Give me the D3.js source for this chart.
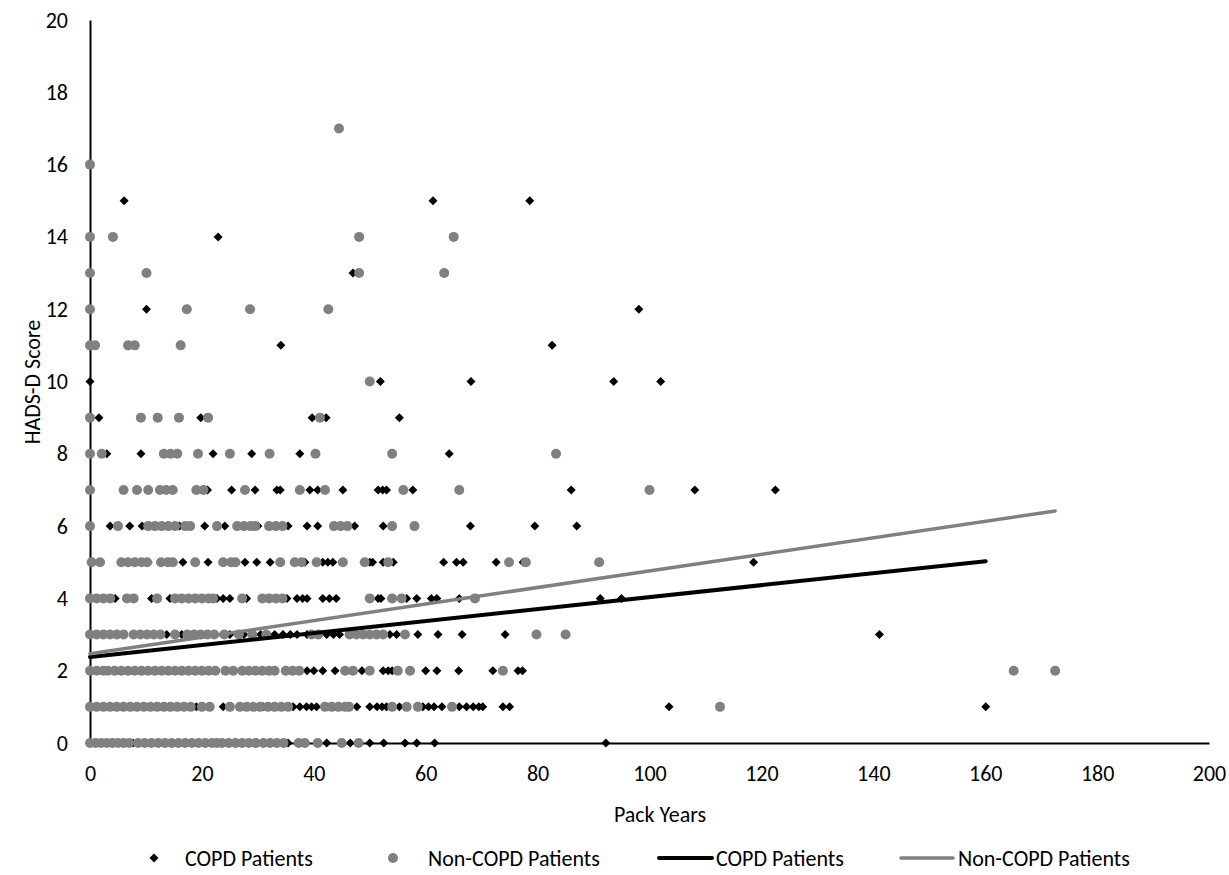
<!DOCTYPE html>
<html lang="en">
<head>
<meta charset="utf-8">
<title>HADS-D Score vs Pack Years</title>
<script src="https://cdn.jsdelivr.net/npm/d3@7"></script>
<style>
  body { margin: 0; background: #fff; }
  text { font-family: Calibri, Carlito, Lato, sans-serif; fill: #000; }
</style>
</head>
<body>
<script>
// pack years per HADS-D score (index = score)
var copdByScore = [
  [7.7, 30, 35.4, 42.3, 46.5, 50, 52.5, 56.3, 58.4, 61.6, 92.2],
  [19, 23.8, 25, 31, 36.3, 37.5, 38.7, 39.6, 40.5, 47.7, 50, 51.3, 52.2, 53, 55.3, 59.5, 60.5, 61.5, 62.9, 66, 67.3, 68.5, 69.5, 70.2, 73.8, 75, 103.5, 160.1],
  [38.8, 40, 41.6, 43.8, 48.6, 52.4, 53.3, 54, 60, 62, 65.9, 72, 76.5, 77.3],
  [13.7, 16.4, 25, 27.5, 30.5, 33, 34.5, 35.8, 37, 38.8, 42.3, 43.5, 44.6, 53.6, 54.8, 58.6, 62.2, 66.5, 74.2, 141.1],
  [4.5, 11, 14.3, 22.7, 23.8, 25, 28, 35.2, 37, 38, 38.8, 41.6, 42.8, 44, 51.5, 52, 56.6, 58.4, 61, 62, 66, 91.2, 95],
  [10.4, 16.6, 21.1, 27.7, 29.8, 32.2, 38.4, 41.6, 42.5, 43.4, 50, 50.5, 52.4, 54.2, 63.2, 65.5, 66.7, 72.6, 77.4, 118.6],
  [3.6, 7.1, 9.3, 16, 20.5, 24.1, 30, 35.4, 38.8, 40.7, 47.3, 52.4, 68, 79.5, 87],
  [21, 25.3, 29.5, 33.4, 34, 39.3, 40.7, 45.2, 51.5, 52.3, 53, 57.7, 86, 108.1, 122.5],
  [3, 9.1, 22, 28.9, 37.5, 64.2],
  [1.6, 19.8, 39.7, 42.2, 55.3],
  [0, 51.9, 68.1, 93.6, 102],
  [34.1, 82.6],
  [10.1, 98.1],
  [47],
  [22.9],
  [6.1, 61.3, 78.6]
];

var nonCopdByScore = [
  [0, 1, 2, 3, 4, 5, 6, 7, 8.6, 9.8, 11, 12.2, 13.4, 14.6, 15.8, 17, 18.2, 19.4, 20.6, 21.8, 22.7, 23.6, 24.8, 26, 27.2, 28.4, 29.6, 31, 32.2, 33.4, 34.6, 37.3, 38.4, 40.7, 45, 48],
  [0, 1.2, 2.4, 3.6, 4.8, 6, 7.2, 8.4, 9.6, 10.8, 12, 13.2, 14.4, 15.6, 16.8, 18, 20, 21.4, 25, 26.8, 28, 29.2, 30.4, 31.8, 33, 34.2, 35.4, 42, 43.2, 44.4, 45.6, 46.3, 54, 56.6, 58.6, 64.7, 112.6],
  [0, 1.2, 2.4, 3.2, 4.4, 5.6, 6.8, 8, 9.2, 10.4, 11.6, 12.8, 14, 15.2, 16.4, 17.6, 18.8, 20, 21.2, 22.4, 24.2, 25.6, 27.2, 28.4, 29.6, 30.8, 32, 33, 35, 36.2, 37.4, 45.6, 47, 50, 55, 57.2, 73.8, 165.1, 172.5],
  [0, 1.2, 2.4, 3.6, 4.8, 6, 7.8, 9, 10.2, 11.4, 12.6, 15.2, 17.4, 18.6, 19.8, 21, 22.2, 24, 26.6, 29, 31.5, 39.6, 40.8, 46.4, 47.6, 48.8, 50, 51.2, 52.4, 56.3, 79.8, 85],
  [0, 1.2, 2.4, 3.6, 6.6, 7.8, 12, 15.2, 16.4, 17.6, 18.8, 20, 21.2, 22, 27.2, 30.8, 32, 33.2, 34.4, 50, 54, 55.7, 68.8],
  [0.3, 1.8, 5.6, 6.8, 8, 9.2, 10.2, 12.7, 13.9, 14.8, 18.8, 23.8, 25.2, 26, 34, 36.6, 37.8, 40.5, 45.2, 49.1, 53.3, 74.9, 77.9, 91],
  [0, 5, 10.4, 11.6, 12.8, 14, 15.2, 17, 17.9, 22.7, 26.3, 27.5, 28.7, 29.5, 32, 33.2, 34.4, 43.6, 44.8, 46, 54, 58],
  [0, 6, 8.4, 10.4, 12.5, 13.6, 14.8, 19, 20.3, 27.7, 37.5, 42, 56, 66, 100],
  [0, 2.1, 13.2, 14.4, 15.6, 19.3, 25, 32.1, 40.3, 54, 83.3],
  [0, 9.1, 12.1, 15.9, 21.1, 41.1],
  [50],
  [0, 0.9, 6.8, 8, 16.2],
  [0, 17.3, 28.6, 42.6],
  [0, 10.1, 48.1, 63.3],
  [0, 4.1, 48.1, 65],
  [],
  [0],
  [44.5]
];

// linear trend lines: [packYears, score] at both ends
var copdTrend = [[0, 2.38], [160.1, 5.03]];
var nonCopdTrend = [[0, 2.47], [172.5, 6.42]];

var xTicks = [0, 20, 40, 60, 80, 100, 120, 140, 160, 180, 200];
var yTicks = [0, 2, 4, 6, 8, 10, 12, 14, 16, 18, 20];

var legendLabels = ["COPD Patients", "Non-COPD Patients", "COPD Patients", "Non-COPD Patients"];

var w = 1229, h = 875;
var grey = "#808080";

function flatten(rows) {
  var pts = [];
  rows.forEach(function(xs, score) {
    xs.forEach(function(x) { pts.push([x, score]); });
  });
  return pts;
}

var svg = d3.select("body").append("svg")
  .attr("width", w)
  .attr("height", h);

var x = d3.scaleLinear().domain([0, 200]).range([90, 1209]);
var y = d3.scaleLinear().domain([0, 20]).range([743, 20]);

// axes
var xAxis = svg.append("g")
  .attr("transform", "translate(0," + y(0) + ")")
  .call(d3.axisBottom(x).tickValues(xTicks).tickSize(0).tickPadding(22));
var yAxis = svg.append("g")
  .attr("transform", "translate(" + x(0) + ",0)")
  .call(d3.axisLeft(y).tickValues(yTicks).tickSize(0).tickPadding(22));

[xAxis, yAxis].forEach(function(g) {
  g.select(".domain").attr("stroke", "#000").attr("stroke-width", 2);
  g.selectAll("text").attr("font-size", 22).attr("font-family", "Calibri, Carlito, Lato, sans-serif");
});

// COPD diamonds, then non-COPD circles on top
svg.append("g").selectAll("path")
  .data(flatten(copdByScore))
  .enter()
  .append("path")
  .attr("d", "M0,-4.5L4.5,0L0,4.5L-4.5,0Z")
  .attr("transform", function(d) { return "translate(" + x(d[0]) + "," + y(d[1]) + ")"; })
  .attr("fill", "#000");

svg.append("g").selectAll("circle")
  .data(flatten(nonCopdByScore))
  .enter()
  .append("circle")
  .attr("cx", function(d) { return x(d[0]); })
  .attr("cy", function(d) { return y(d[1]); })
  .attr("r", 5)
  .attr("fill", grey);

var line = d3.line()
  .x(function(d) { return x(d[0]); })
  .y(function(d) { return y(d[1]); });

svg.append("path").datum(copdTrend)
  .attr("d", line).attr("stroke", "#000").attr("stroke-width", 4)
  .attr("stroke-linecap", "round").attr("fill", "none");
svg.append("path").datum(nonCopdTrend)
  .attr("d", line).attr("stroke", grey).attr("stroke-width", 3.5)
  .attr("stroke-linecap", "round").attr("fill", "none");

// axis titles
svg.append("text")
  .attr("x", 660).attr("y", 822)
  .attr("text-anchor", "middle").attr("font-size", 22)
  .text("Pack Years");
svg.append("text")
  .attr("transform", "translate(40,382) rotate(-90)")
  .attr("text-anchor", "middle").attr("font-size", 22)
  .text("HADS-D Score");

// legend
var ly = 858;
var leg = svg.append("g").attr("font-size", 22);
leg.append("path").attr("d", "M0,-4.5L4.5,0L0,4.5L-4.5,0Z")
  .attr("transform", "translate(154," + ly + ")").attr("fill", "#000");
leg.append("text").attr("x", 185).attr("y", ly + 8).text(legendLabels[0]);
leg.append("circle").attr("cx", 393).attr("cy", ly).attr("r", 5).attr("fill", grey);
leg.append("text").attr("x", 428).attr("y", ly + 8).text(legendLabels[1]);
leg.append("line").attr("x1", 659).attr("x2", 712).attr("y1", ly).attr("y2", ly)
  .attr("stroke", "#000").attr("stroke-width", 4).attr("stroke-linecap", "round");
leg.append("text").attr("x", 716).attr("y", ly + 8).text(legendLabels[2]);
leg.append("line").attr("x1", 901).attr("x2", 953).attr("y1", ly).attr("y2", ly)
  .attr("stroke", grey).attr("stroke-width", 3.5).attr("stroke-linecap", "round");
leg.append("text").attr("x", 958).attr("y", ly + 8).text(legendLabels[3]);
</script>
</body>
</html>
